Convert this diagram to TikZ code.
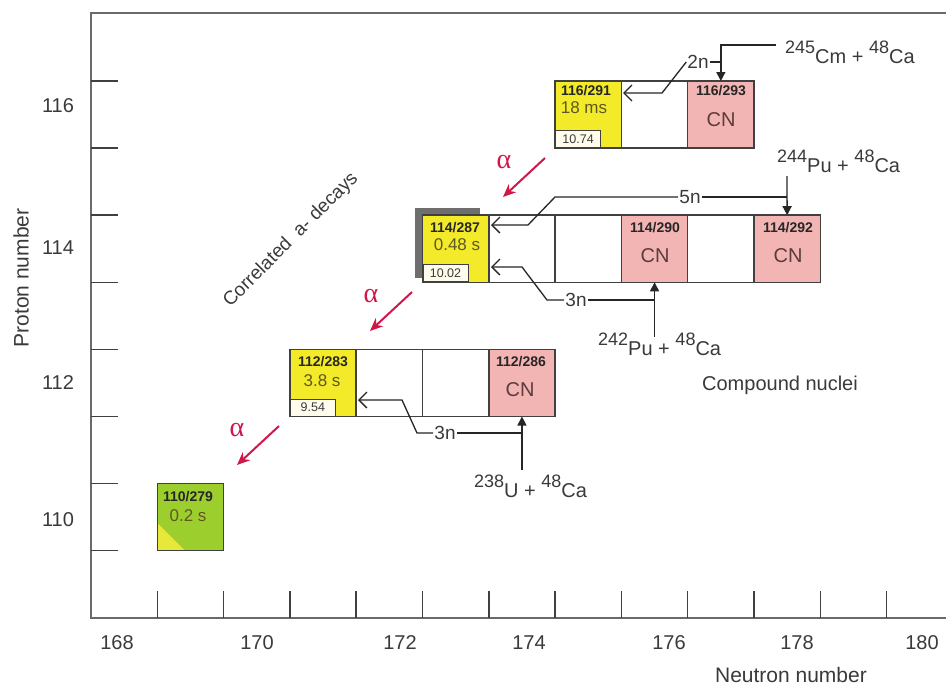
\documentclass[tikz,border=0pt]{standalone}
\usepackage{fontspec}
\setmainfont{Liberation Sans}
\newfontfamily\serifgreek{Liberation Serif}
\usetikzlibrary{arrows.meta,calc}
\definecolor{axisgray}{HTML}{6A6A6A}
\definecolor{boxline}{HTML}{404040}
\definecolor{cyel}{HTML}{F3EA2A}
\definecolor{cpink}{HTML}{F3B5B3}
\definecolor{cgreen}{HTML}{9CCF2E}
\definecolor{ctri}{HTML}{E6E83A}
\definecolor{cream}{HTML}{FFFCEB}
\definecolor{hlcol}{HTML}{5E5820}
\definecolor{cncol}{HTML}{5A3C3C}
\definecolor{alphared}{HTML}{D0174A}
\definecolor{shadowgray}{HTML}{6E6E6E}
\definecolor{txtgray}{HTML}{3A3A3A}
\newcommand\iso[2]{\raisebox{0.5em}{\fontsize{18}{18}\selectfont #1}#2}
\begin{document}
\begin{tikzpicture}[x=1pt,y=-1pt,
  cellbox/.style={draw=boxline, line width=1.5pt, minimum width=66.3pt, minimum height=67.1pt, anchor=north west, inner sep=0pt, outer sep=0pt},
  idlab/.style={font=\fontsize{14}{15}\selectfont\bfseries, text=black!85, inner sep=0pt},
  hl/.style={font=\fontsize{17}{18}\selectfont, text=hlcol, inner sep=0pt},
  cnl/.style={font=\fontsize{20}{22}\selectfont, text=cncol, inner sep=0pt},
  qbox/.style={draw=boxline, line width=1pt, fill=cream, minimum width=45pt, minimum height=17pt, inner sep=0pt, anchor=south west, font=\fontsize{12.5}{13}\selectfont, text=txtgray},
  txt/.style={font=\fontsize{20}{24}\selectfont, text=txtgray, inner sep=0pt},
  rlab/.style={font=\fontsize{20}{24}\selectfont, text=txtgray, inner sep=0pt, anchor=base west},
  nlab/.style={font=\fontsize{19}{22}\selectfont, text=txtgray, inner sep=1pt},
  conn/.style={line width=1.3pt, draw=black!85},
  tri/.style={-{Triangle[length=9pt,width=9pt]}},
  barb/.style={-{Straight Barb[length=8pt,width=16pt]}},
  alab/.style={font=\serifgreek\fontsize{28}{28}\selectfont, text=alphared, inner sep=0pt},
  aarr/.style={draw=alphared, line width=2pt, -{Stealth[length=13pt,width=11pt]}},
  axisline/.style={draw=axisgray, line width=2pt},
  axtick/.style={draw=black!75, line width=1.5pt},
]
\useasboundingbox (0,0) rectangle (946,689);
\fill[white] (0,0) rectangle (946,689);

% axes
\draw[axisline] (946,13) -- (91,13) -- (91,618) -- (946,618);
\foreach \y in {81,148.1,215.2,282.3,349.4,416.5,483.6,550.7}
  \draw[axtick] (91,\y) -- (118,\y);
\foreach \x in {157.3,223.6,289.9,356.2,422.5,488.8,555.1,621.4,687.7,754,820.3,886.6}
  \draw[axtick] (\x,591) -- (\x,618);

\node[txt] (y116) at (58,106) {116};
\node[txt] (y114) at (58,248) {114};
\node[txt] (y112) at (58,383) {112};
\node[txt] (y110) at (58,520) {110};
\node[txt] (x168) at (117,643) {168};
\node[txt] (x170) at (257,643) {170};
\node[txt] (x172) at (400,643) {172};
\node[txt] (x174) at (529,643) {174};
\node[txt] (x176) at (669,643) {176};
\node[txt] (x178) at (797,643) {178};
\node[txt] (x180) at (922,643) {180};
\node[txt, rotate=90, font=\fontsize{21}{24}\selectfont] (plab) at (21,278) {Proton number};
\node[txt, font=\fontsize{21}{24}\selectfont] (nlabel) at (791,675) {Neutron number};
\node[txt, rotate=45, font=\fontsize{19}{22}\selectfont] (corr) at (291,240) {Correlated \ a- decays};
\node[txt] (cnuc) at (780,385) {Compound nuclei};

% row 116
\node[cellbox, fill=cyel] (c291) at (555.1,81) {};
\node[cellbox] (w116) at (621.4,81) {};
\node[cellbox, fill=cpink] (c293) at (687.7,81) {};
\node[idlab] (t291) at (586,91) {116/291};
\node[hl] (h291) at (584,108) {18 ms};
\node[qbox] (q291) at (c291.south west) {10.74};
\node[idlab] (t293) at (721,91) {116/293};
\node[cnl] (cn293) at (721,120) {CN};

% row 114
\fill[shadowgray] (415,208) rectangle (480,278);
\node[cellbox, fill=cyel] (c287) at (422.5,215.2) {};
\node[cellbox] (w114a) at (488.8,215.2) {};
\node[cellbox] (w114b) at (555.1,215.2) {};
\node[cellbox, fill=cpink] (c290) at (621.4,215.2) {};
\node[cellbox] (w114c) at (687.7,215.2) {};
\node[cellbox, fill=cpink] (c292) at (754,215.2) {};
\node[idlab] (t287) at (455,228) {114/287};
\node[hl] (h287) at (457,245) {0.48 s};
\node[qbox] (q287) at (c287.south west) {10.02};
\node[idlab] (t290) at (655,228) {114/290};
\node[cnl] (cn290) at (655,256) {CN};
\node[idlab] (t292) at (788,228) {114/292};
\node[cnl] (cn292) at (788,256) {CN};

% row 112
\node[cellbox, fill=cyel] (c283) at (289.9,349.4) {};
\node[cellbox] (w112a) at (356.2,349.4) {};
\node[cellbox] (w112b) at (422.5,349.4) {};
\node[cellbox, fill=cpink] (c286) at (488.8,349.4) {};
\node[idlab] (t283) at (323,362) {112/283};
\node[hl] (h283) at (322,381) {3.8 s};
\node[qbox] (q283) at (c283.south west) {9.54};
\node[idlab] (t286) at (521,362) {112/286};
\node[cnl] (cn286) at (520,390) {CN};

% row 110
\node[cellbox, fill=cgreen] (c279) at (157.3,483.6) {};
\fill[ctri] ($(c279.south west)+(0.8,-27)$) -- ($(c279.south west)+(0.8,-0.8)$) -- ($(c279.south west)+(27,-0.8)$) -- cycle;
\draw[draw=boxline, line width=1.5pt] (c279.north west) rectangle (c279.south east);
\node[idlab] (t279) at (188,497) {110/279};
\node[hl] (h279) at (188,516) {0.2 s};

% reactions, row 116
\node[rlab] (r245) at (785,63) {\iso{245}{Cm} + \iso{48}{Ca}};
\coordinate (s245) at (776,45);
\draw[conn, tri] (s245) -| (c293.north);
\node[nlab] (n2n) at (698,62) {2n};
\draw[conn] (c293.north |- n2n.east) -- (n2n.east);
\coordinate (b2n) at (662,93);
\coordinate (e291) at (623,93);
\draw[conn, barb] (n2n.west) -- (b2n) -- (e291);

% reactions, row 114
\node[rlab] (r244) at (777,172) {\iso{244}{Pu} + \iso{48}{Ca}};
\coordinate (s244) at (787,176);
\draw[conn, tri] (s244) -- (c292.north);
\node[nlab] (n5n) at (690,197) {5n};
\draw[conn] (c292.north |- n5n.east) -- (n5n.east);
\coordinate (b5a) at (555,197);
\coordinate (b5b) at (528,225);
\coordinate (e5n) at (491,225);
\draw[conn, barb] (n5n.west) -- (b5a) -- (b5b) -- (e5n);

\node[rlab] (r242) at (598,355) {\iso{242}{Pu} + \iso{48}{Ca}};
\coordinate (s242) at (c290.south |- 0,337);
\draw[conn, tri] (s242) -- (c290.south);
\node[nlab] (n3a) at (576,300) {3n};
\draw[conn] (c290.south |- n3a.east) -- (n3a.east);
\coordinate (b3a) at (547,300);
\coordinate (b3b) at (522,267);
\coordinate (e3a) at (491,267);
\draw[conn, barb] (n3a.west) -- (b3a) -- (b3b) -- (e3a);

% reactions, row 112
\node[rlab] (r238) at (474,497) {\iso{238}{U} + \iso{48}{Ca}};
\coordinate (s238) at (c286.south |- 0,470);
\draw[conn, tri] (s238) -- (c286.south);
\node[nlab] (n3b) at (445,433) {3n};
\draw[conn] (c286.south |- n3b.east) -- (n3b.east);
\coordinate (b3c) at (417,433);
\coordinate (b3d) at (402,400);
\coordinate (e3b) at (358,400);
\draw[conn, barb] (n3b.west) -- (b3c) -- (b3d) -- (e3b);

% alpha decays
\node[alab] (al1) at (504,162) {α};
\coordinate (a1s) at (545,158);
\coordinate (a1e) at (503,197);
\draw[aarr] (a1s) -- (a1e);
\node[alab] (al2) at (371,296) {α};
\coordinate (a2s) at (412,292);
\coordinate (a2e) at (370,331);
\draw[aarr] (a2s) -- (a2e);
\node[alab] (al3) at (237,430) {α};
\coordinate (a3s) at (279,426);
\coordinate (a3e) at (237,465);
\draw[aarr] (a3s) -- (a3e);
\end{tikzpicture}
\end{document}
